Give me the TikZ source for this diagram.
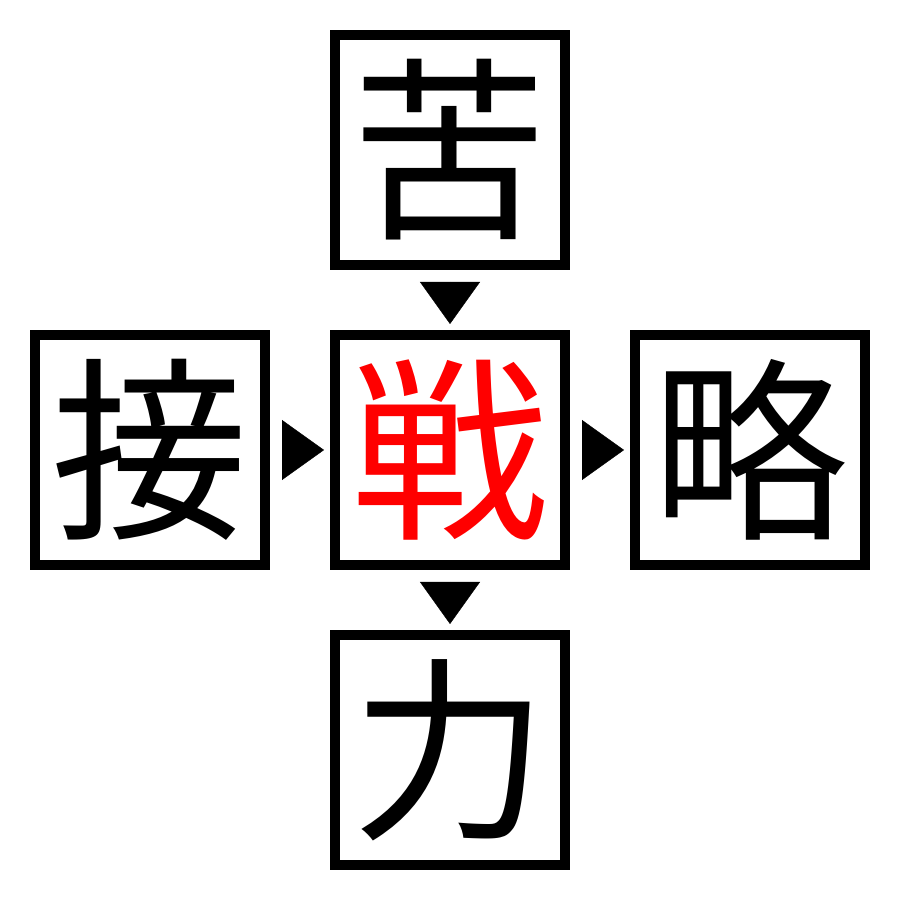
\documentclass[tikz,border=0pt]{standalone}
\usepackage{fontspec}
\newfontfamily\jpfont{Noto Sans CJK JP}
\usetikzlibrary{arrows.meta}
\tikzset{
    kanjibox/.style={draw,line width=0.1cm,minimum size=2.3cm,inner sep=0pt,
        font=\jpfont\fontsize{56}{56}\selectfont},
    pointer/.style={line width=0.1pt,-{Triangle[length=0.42cm,width=0.6cm]},
        shorten <=0.12cm,shorten >=0.06cm}
}
\begin{document}
\begin{tikzpicture}
    \useasboundingbox (0,0) rectangle (9,9);
    %% boxes
    \node[kanjibox] (top) at (4.5,7.5) {苦};
    \node[kanjibox] (left) at (1.5,4.5) {接};
    \node[kanjibox,text=red] (mid) at (4.5,4.5) {戦};
    \node[kanjibox] (right) at (7.5,4.5) {略};
    \node[kanjibox] (bottom) at (4.5,1.5) {力};
    %% arrows
    \draw[pointer] (top.south) -- (mid.north);
    \draw[pointer] (left.east) -- (mid.west);
    \draw[pointer] (mid.east) -- (right.west);
    \draw[pointer] (mid.south) -- (bottom.north);
\end{tikzpicture}
\end{document}
